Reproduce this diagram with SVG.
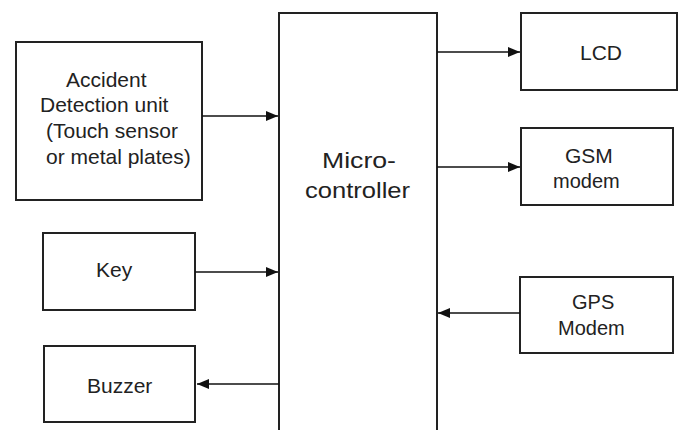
<svg xmlns="http://www.w3.org/2000/svg" width="682" height="430" viewBox="0 0 682 430">
<defs>
<marker id="arr" viewBox="0 0 12 10" refX="12" refY="5" markerWidth="12" markerHeight="10" markerUnits="userSpaceOnUse" orient="auto">
<path d="M0,0 L12,5 L0,10 Z" fill="#111"/>
</marker>
</defs>
<style>
.box{fill:#fff;stroke:#222;stroke-width:2}
.lbl{font-family:"Liberation Sans",Arial,sans-serif;font-size:21px;fill:#222}
.sm{font-size:20px}
.big{font-size:22px}
.con{stroke:#111;stroke-width:1.6;fill:none;marker-end:url(#arr)}
</style>
<rect width="682" height="430" fill="#fff"/>
<g id="accident">
<rect class="box" x="16" y="42" width="186" height="158"/>
<text class="lbl" x="66" y="87">Accident</text>
<text class="lbl" x="40" y="112">Detection unit</text>
<text class="lbl" x="46" y="138">(Touch sensor</text>
<text class="lbl" x="46" y="164">or metal plates)</text>
</g>
<g id="key">
<rect class="box" x="43" y="233" width="152" height="77"/>
<text class="lbl" x="96" y="277">Key</text>
</g>
<g id="buzzer">
<rect class="box" x="44" y="346" width="151" height="76"/>
<text class="lbl" x="87" y="393">Buzzer</text>
</g>
<g id="microcontroller">
<path d="M279,431 L279,13 L437,13 L437,431" fill="#fff" stroke="#222" stroke-width="2"/>
<text class="lbl big" x="322" y="168" textLength="74" lengthAdjust="spacingAndGlyphs">Micro-</text>
<text class="lbl big" x="305" y="198" textLength="105" lengthAdjust="spacingAndGlyphs">controller</text>
</g>
<g id="lcd">
<rect class="box" x="521" y="13" width="156" height="77"/>
<text class="lbl" x="580" y="60" textLength="42" lengthAdjust="spacing">LCD</text>
</g>
<g id="gsm">
<rect class="box" x="521" y="128" width="152" height="77"/>
<text class="lbl" x="565" y="163">GSM</text>
<text class="lbl sm" x="553" y="188">modem</text>
</g>
<g id="gps">
<rect class="box" x="520" y="277" width="153" height="76"/>
<text class="lbl sm" x="572" y="309">GPS</text>
<text class="lbl sm" x="558" y="335">Modem</text>
</g>
<g id="connectors">
<line class="con" x1="202" y1="116" x2="278" y2="116"/>
<line class="con" x1="195" y1="272" x2="278" y2="272"/>
<line class="con" x1="279" y1="384" x2="197" y2="384"/>
<line class="con" x1="437" y1="52" x2="520" y2="52"/>
<line class="con" x1="437" y1="167" x2="520" y2="167"/>
<line class="con" x1="520" y1="313" x2="438" y2="313"/>
</g>
</svg>
